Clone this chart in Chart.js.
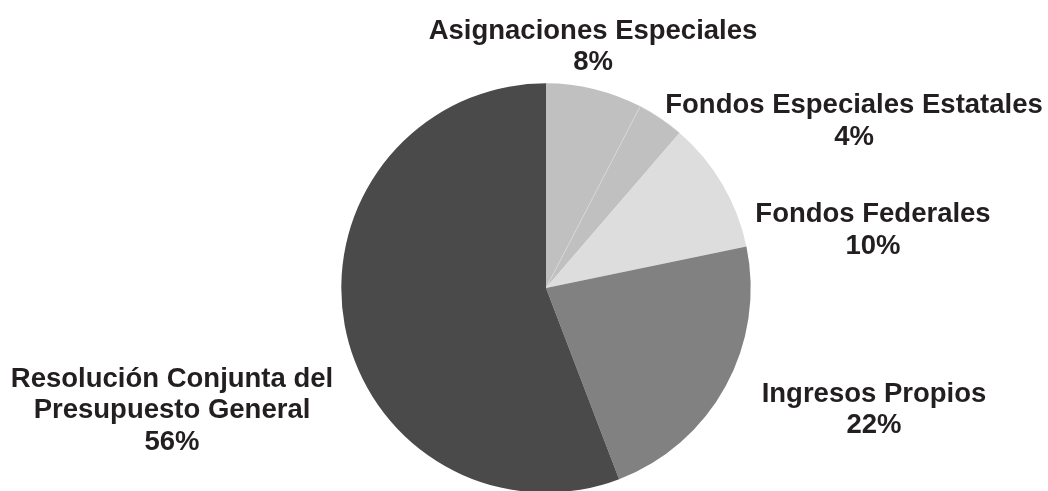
<!DOCTYPE html>
<html>
<head>
<meta charset="utf-8">
<script src="https://cdn.jsdelivr.net/npm/chart.js@4/dist/chart.umd.min.js"></script>
<style>
  html, body { margin: 0; padding: 0; background: #fff; overflow: hidden; }
  #wrap { width: 1048px; height: 500px; }
</style>
</head>
<body>
<div id="wrap"><canvas id="chart"></canvas></div>
<script>
const categories = ['Asignaciones Especiales', 'Fondos Especiales Estatales', 'Fondos Federales', 'Ingresos Propios', 'Resolución Conjunta del Presupuesto General']
const labelLines = [['Asignaciones Especiales'], ['Fondos Especiales Estatales'], ['Fondos Federales'], ['Ingresos Propios'], ['Resolución Conjunta del', 'Presupuesto General']]
const values = [7.6, 3.7, 10.4, 22.4, 55.7]
const colors = ['#c0c0c0', '#c0c0c0', '#dddddd', '#818181', '#4a4a4a']

// where each label's first baseline sits, relative to the pie centre
const labelOffsets = [[47, -249.5], [308, -175], [327, -66], [328, 113.7], [-374, 98.7]]

const total = values.reduce((a, b) => a + b, 0)

const labelPlugin = {
    id: 'sliceLabels',
    afterDraw(chart) {
        const ctx = chart.ctx
        const arc = chart.getDatasetMeta(0).data[0]
        ctx.save()
        ctx.fillStyle = '#231f20'
        ctx.font = 'bold 27.5px "Liberation Sans", Arial, sans-serif'
        ctx.textAlign = 'center'
        ctx.textBaseline = 'alphabetic'
        for (let i = 0; i < values.length; i++) {
            const lines = labelLines[i].concat([Math.round(values[i] / total * 100) + '%'])
            const x = arc.x + labelOffsets[i][0]
            let y = arc.y + labelOffsets[i][1]
            lines.forEach(line => {
                ctx.fillText(line, x, y)
                y += 31.5
            })
        }
        ctx.restore()
    }
}

const ctx = document.getElementById('chart').getContext('2d')
new Chart(ctx, {
    type: 'pie',
    data: {
        labels: categories,
        datasets: [{
            data: values,
            backgroundColor: colors,
            borderColor: '#dedede',
            borderWidth: [0, 0.6, 0, 0, 0]
        }]
    },
    options: {
        responsive: true,
        maintainAspectRatio: false,
        animation: false,
        layout: {
            padding: { top: 83, bottom: 7, left: 341, right: 297 }
        },
        plugins: {
            legend: { display: false },
            tooltip: { enabled: false }
        }
    },
    plugins: [labelPlugin]
})
</script>
</body>
</html>
